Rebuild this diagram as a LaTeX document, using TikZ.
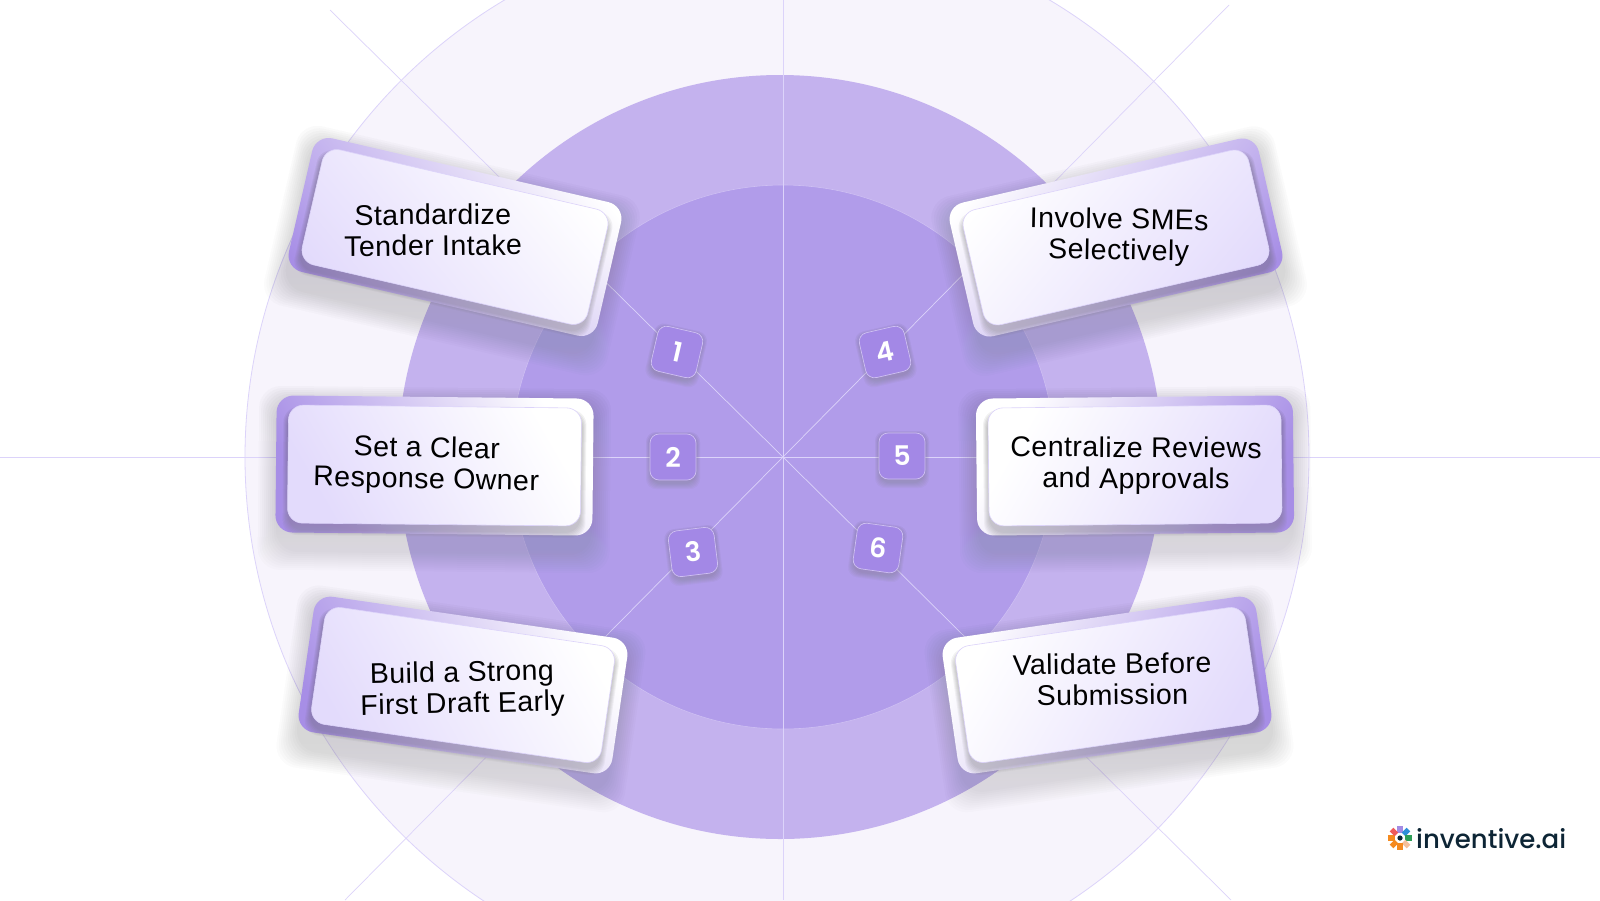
\documentclass[tikz,border=0pt]{standalone}
\usepackage{fontspec}
\setmainfont{Liberation Sans}
\newfontfamily\numfont{Poppins}[UprightFont=* SemiBold]
\newfontfamily\logofont{Poppins}[UprightFont=* Medium]
\definecolor{ringA}{HTML}{F7F4FC}
\definecolor{ringB}{HTML}{C4B2EE}
\definecolor{ringC}{HTML}{B19CEA}
\definecolor{edgeA}{HTML}{DCD3FA}
\definecolor{edgeB}{HTML}{CFC0F3}
\definecolor{badge}{HTML}{A388E6}
\definecolor{cardDark}{HTML}{A78EE6}
\definecolor{faceDark}{HTML}{E3DBFC}
\definecolor{navy}{HTML}{0D2535}
\definecolor{shade}{HTML}{3A2A70}
\tikzset{
  spoke/.style={draw=edgeA,line width=.7pt},
  cardtext/.style={font=\fontsize{28.5}{31}\selectfont\addfontfeatures{LetterSpace=1.6},align=center,text=black,inner sep=0pt},
  badgebox/.style={rectangle,rounded corners=9pt,minimum size=46pt,inner sep=0pt,fill=badge,draw=edgeB,line width=.7pt,text=white,font=\numfont\fontsize{27}{27}\selectfont},
}
% name, x, y, frame rot, text rot, text dx, text dy, text, shading angle, left/right face colours
\newcommand{\cardblock}[9]{%
  \begin{scope}[shift={(#2,#3)},rotate=#4]
    \foreach \k in {0,...,9}{
      \fill[shade,opacity=.012,rounded corners=22pt] (-158-\k*2,-60-\k*2) rectangle (158+\k*2,88+\k*2);
    }
    \shade[rounded corners=17pt,bottom color=cardDark,top color=white,shading angle=#9] (-158.5,-68.5) rectangle (158.5,68.5);
    \foreach \k in {0,...,5}{
      \fill[shade,opacity=.035,rounded corners=15pt] (-146.5-\k,-52-\k) rectangle (146.5+\k,66+\k);
    }
    \shade[rounded corners=15pt,draw=edgeA,line width=.6pt,bottom color=faceDark,top color=white,shading angle=#9] (-146.5,-59) rectangle (146.5,59);
    \node[cardtext,rotate=#5-#4] (#1) at (#6,#7) {#8};
  \end{scope}}
\newcommand{\badgeblock}[5]{%
  \begin{scope}[shift={(#2,#3)},rotate=#4]
    \foreach \k in {0,...,5}{
      \fill[shade,opacity=.03,rounded corners=10pt] (-22-\k,-20-\k) rectangle (22+\k,27+\k);
    }
  \end{scope}
  \node[badgebox,rotate=#4] (#1) at (#2,#3) {#5};}
\begin{document}
\begin{tikzpicture}[x=1pt,y=-1pt]
\useasboundingbox (0,0) rectangle (1600,900);
\fill[white] (0,0) rectangle (1600,900);
\begin{scope}
\clip (0,0) rectangle (1600,900);
\coordinate (ctr) at (783,457);
\coordinate (eL) at (0,457);
\coordinate (eR) at (1600,457);
\coordinate (eT) at (783,0);
\coordinate (eB) at (783,900);
\coordinate (eTL) at (330,10);
\coordinate (eTR) at (1229,5);
\coordinate (eBL) at (345,900);
\coordinate (eBR) at (1231,900);
\filldraw[fill=ringA,draw=edgeA,line width=.8pt] (777,457) circle (532);
\filldraw[fill=ringB,draw=none] (780,457) circle (382);
\filldraw[fill=ringC,draw=edgeB,line width=.6pt] (783,457) circle (272);
\foreach \e in {eL,eR,eT,eB,eTL,eTR,eBL,eBR}{\draw[spoke] (ctr) -- (\e);}
\end{scope}
\cardblock{c1}{455}{237}{-13}{-12.5}{-23}{-2}{Standardize\\Tender Intake}{-50}
\cardblock{c2}{434.5}{465.5}{-.6}{-1.8}{-8}{0}{Set a Clear\\Response Owner}{-60}
\cardblock{c3}{463}{685}{-8.3}{-7}{0}{5}{Build a Strong\\First Draft Early}{-60}
\cardblock{c4}{1116}{237.5}{13}{12}{3}{0}{Involve SMEs\\Selectively}{50}
\cardblock{c5}{1135}{465.5}{.6}{.2}{1}{0}{Centralize Reviews\\and Approvals}{60}
\cardblock{c6}{1107}{685}{8.3}{9}{6}{-5}{Validate Before\\Submission}{60}
\badgeblock{b1}{677}{352}{-13}{1}
\badgeblock{b2}{673}{457}{0}{2}
\badgeblock{b3}{693}{552}{7}{3}
\badgeblock{b4}{885}{352}{13}{4}
\badgeblock{b5}{902}{456}{0}{5}
\badgeblock{b6}{878}{548}{-8}{6}
% logo
\begin{scope}[shift={(1400,838)}]
  \fill[navy] (0,0) circle (2.6);
  \foreach \a/\c in {90/A48BE4,45/2F8FD8,0/2E9E58,-45/F4C09A,-90/F58A1F,-135/F58A1F,180/F58A1F,135/EF5A5A}{
    \definecolor{pet}{HTML}{\c}
    \fill[pet,rotate=\a] (5,-2.6) rectangle (12,2.6);
  }
\end{scope}
\node[anchor=base west,text=navy,font=\logofont\fontsize{26}{26}\selectfont,inner sep=0pt] (logo) at (1416,848) {inventive.ai};
\end{tikzpicture}
\end{document}
